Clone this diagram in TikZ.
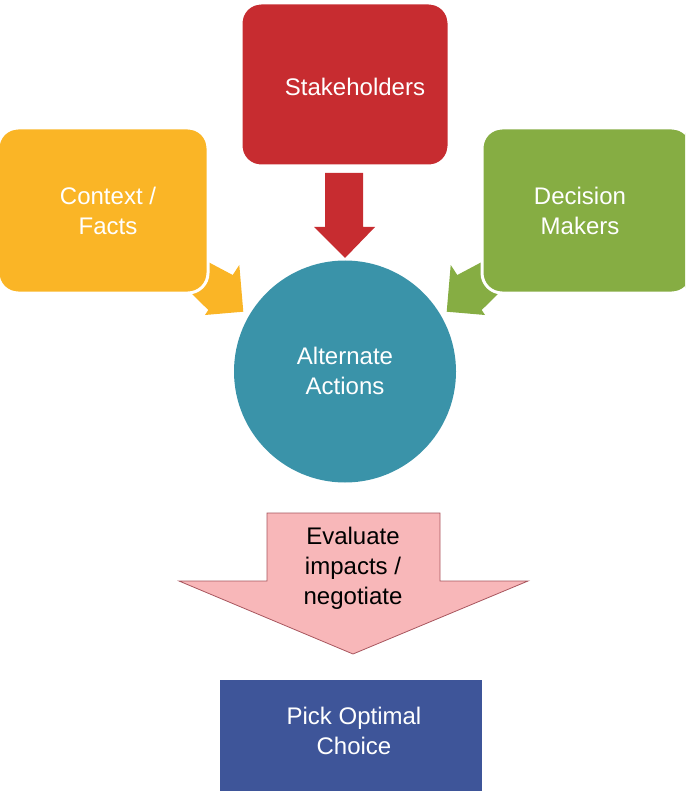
\documentclass[tikz,border=0pt]{standalone}
\usepackage{fontspec}
\setmainfont{Liberation Sans}
\definecolor{cred}{HTML}{C72C30}
\definecolor{cyel}{HTML}{FAB526}
\definecolor{cgrn}{HTML}{86AD43}
\definecolor{cteal}{HTML}{3A93A9}
\definecolor{cpink}{HTML}{F8B7B9}
\definecolor{cpinkd}{HTML}{A8565E}
\definecolor{cblue}{HTML}{3E5599}
\tikzset{
  box/.style={rectangle, rounded corners=20pt, draw=white, line width=3pt, inner sep=0pt},
  lbl/.style={align=center, font=\fontsize{24}{30}\selectfont, inner sep=0pt},
}
\begin{document}
\begin{tikzpicture}[x=1pt,y=-1pt]
\clip (0,0) rectangle (685,791);
% side arrows (behind boxes)
\fill[cyel] (195,255) -- (232.7,275) -- (239.3,265) -- (243.3,311.7) -- (205,315) -- (208.3,310) -- (186,288) -- cycle;
\fill[cgrn] (690-195,255) -- (690-232.7,275) -- (690-239.3,265) -- (690-243.3,311.7) -- (690-205,315) -- (690-208.3,310) -- (690-186,288) -- cycle;
% boxes
\node[box, fill=cred, minimum width=208pt, minimum height=163pt] (stk) at (345,84.5) {};
\node[box, fill=cyel, minimum width=210pt, minimum height=165pt] (ctx) at (103,210.5) {};
\node[box, fill=cgrn, minimum width=210pt, minimum height=165pt] (dec) at (587,210.5) {};
\node[lbl, text=white] (stkt) at (355,87) {Stakeholders};
\node[lbl, text=white] (ctxt) at (108,211) {Context /\\Facts};
\node[lbl, text=white] (dect) at (580,211) {Decision\\Makers};
% red arrow
\fill[cred] (325,173) -- (363,173) -- (363,227) -- (375,227) -- (345,258) -- (314,227) -- (325,227) -- cycle;
% circle
\node[circle, fill=cteal, minimum size=222pt, inner sep=0pt] (alt) at (345,371.5) {};
\node[lbl, text=white] (altt) at (345,371) {Alternate\\Actions};
% pink arrow
\draw[fill=cpink, draw=cpinkd, line width=0.8pt] (267,513) -- (440,513) -- (440,581) -- (528,581) -- (353,654) -- (179,581) -- (267,581) -- cycle;
\node[lbl, text=black] (evalt) at (353,568) {Evaluate\\impacts /\\negotiate};
% blue box
\node[rectangle, fill=cblue, minimum width=262pt, minimum height=140pt, inner sep=0pt] (pick) at (351,750) {};
\node[lbl, text=white] (pickt) at (354,730.5) {Pick Optimal\\Choice};
\end{tikzpicture}
\end{document}
